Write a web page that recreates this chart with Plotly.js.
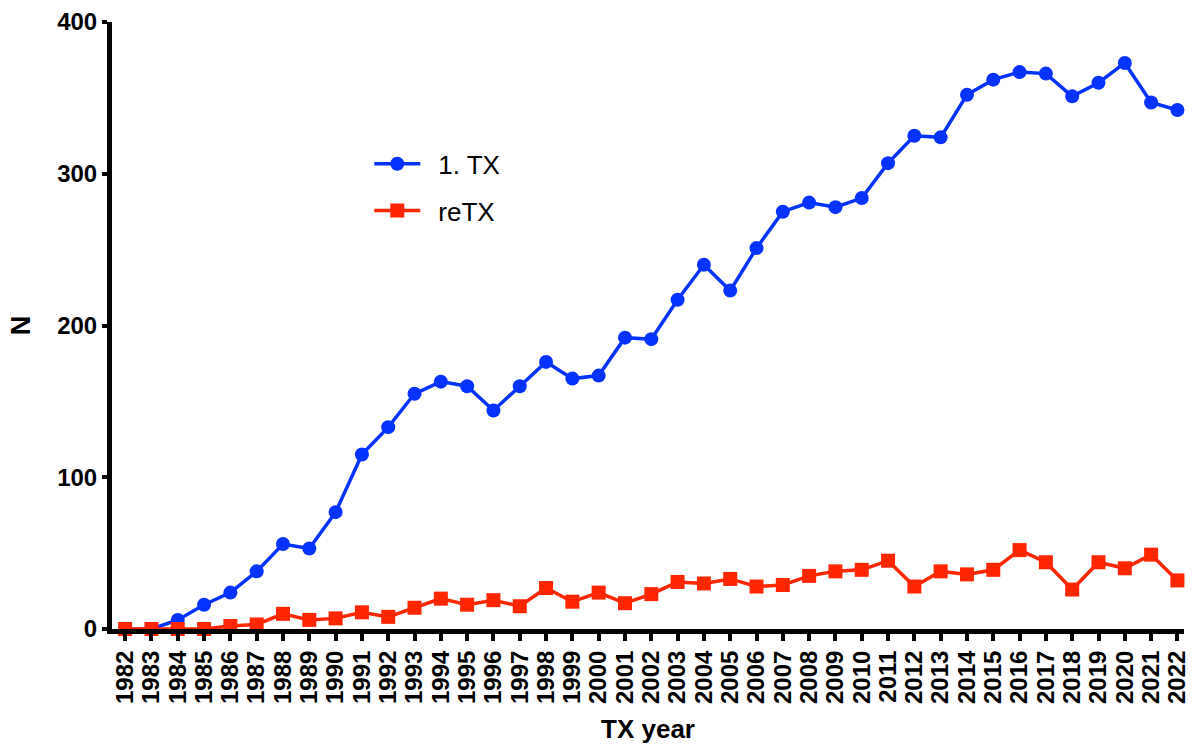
<!DOCTYPE html>
<html>
<head>
<meta charset="utf-8">
<script src="https://cdn.plot.ly/plotly-3.0.1.min.js"></script>
<style>html,body{margin:0;padding:0;background:#fff}#chart{width:1193px;height:746px}</style>
</head>
<body>
<div id="chart"></div>
<script>
const years = [1982,1983,1984,1985,1986,1987,1988,1989,1990,1991,1992,1993,1994,1995,1996,1997,1998,1999,2000,2001,2002,2003,2004,2005,2006,2007,2008,2009,2010,2011,2012,2013,2014,2015,2016,2017,2018,2019,2020,2021,2022];
const firstTX = [0,0,6,16,24,38,56,53,77,115,133,155,163,160,144,160,176,165,167,192,191,217,240,223,251,275,281,278,284,307,325,324,352,362,367,366,351,360,373,347,342];
const reTX = [0,0,0,0,2,3,10,6,7,11,8,14,20,16,19,15,27,18,24,17,23,31,30,33,28,29,35,38,39,45,28,38,36,39,52,44,26,44,40,49,32];
const seriesNames = ['1. TX', 'reTX'];
const yTicks = [0,100,200,300,400];

const FONT = '"Liberation Sans", Arial, sans-serif';
const blue = '#0433ff', red = '#ff2600';
const pad = '\u2002';

const traces = [
  {x: years, y: firstTX, name: pad + seriesNames[0], type: 'scatter', mode: 'lines+markers', cliponaxis: false,
   legendgroup: 'a', line: {color: blue, width: 3.5}, marker: {color: blue, size: 14, symbol: 'circle'}},
  {x: years, y: reTX, name: pad + seriesNames[1], type: 'scatter', mode: 'lines+markers', cliponaxis: false,
   legendgroup: 'b', line: {color: red, width: 3.5}, marker: {color: red, size: 14, symbol: 'square'}}
];

const layout = {
  width: 1193, height: 746,
  margin: {l: 112, r: 9, t: 21.5, b: 117},
  paper_bgcolor: '#fff', plot_bgcolor: '#fff',
  font: {family: FONT, color: '#000'},
  showlegend: true,
  legend: {x: 0.24, y: 0.805, xanchor: 'left', yanchor: 'top', font: {family: FONT, size: 26, color: '#000'},
           bgcolor: 'rgba(0,0,0,0)', traceorder: 'grouped', tracegroupgap: 10, itemwidth: 46},
  xaxis: {
    range: [1981.5, 2022.25], tickmode: 'array', tickvals: years, ticktext: years.map(String),
    tickangle: -90, showgrid: false, zeroline: false, showline: true, linecolor: '#000', linewidth: 5,
    ticks: 'outside', ticklen: 7, tickwidth: 4, tickcolor: '#000',
    tickfont: {family: FONT, size: 24, color: '#000', weight: 'bold'},
    title: {text: '<b>TX year</b>', font: {family: FONT, size: 26, color: '#000'}, standoff: 18}
  },
  yaxis: {
    range: [0, 400], tickmode: 'array', tickvals: yTicks, ticktext: yTicks.map(String),
    showgrid: false, zeroline: false, showline: true, linecolor: '#000', linewidth: 5,
    ticks: 'outside', ticklen: 5, tickwidth: 4, tickcolor: '#000',
    tickfont: {family: FONT, size: 24, color: '#000', weight: 'bold'},
    title: {text: '<b>N</b>', font: {family: FONT, size: 27, color: '#000'}, standoff: 20}
  }
};

Plotly.newPlot('chart', traces, layout, {displayModeBar: false, staticPlot: true});
</script>
</body>
</html>
